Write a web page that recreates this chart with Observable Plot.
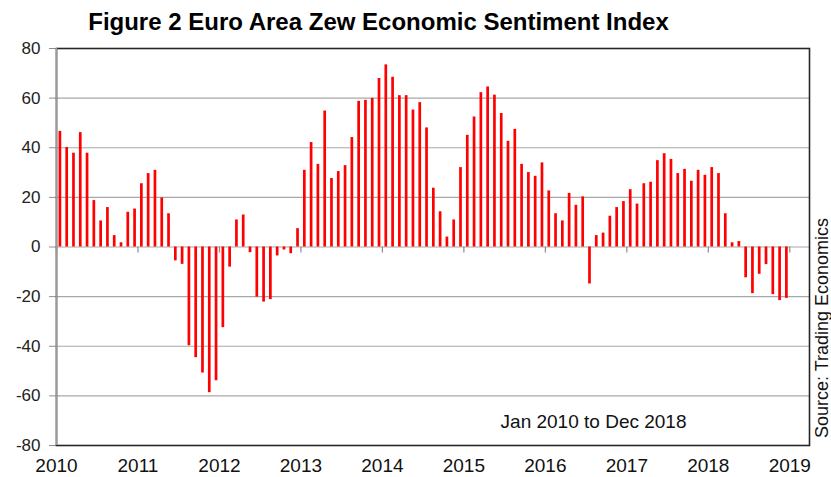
<!DOCTYPE html>
<html>
<head>
<meta charset="utf-8">
<script src="https://cdn.jsdelivr.net/npm/d3@7"></script>
<script src="https://cdn.jsdelivr.net/npm/@observablehq/plot@0.6"></script>
<style>
  body { margin: 0; background: #fff; font-family: Arial, "Liberation Sans", sans-serif; }
  #chart { width: 831px; height: 477px; }
</style>
</head>
<body>
<div id="chart"></div>
<script>
const titleText = "Figure 2 Euro Area Zew Economic Sentiment Index";
const noteText = "Jan 2010 to Dec 2018";
const sourceText = "Source: Trading Economics";

const startYear = 2010;
const yearTicks = [2010, 2011, 2012, 2013, 2014, 2015, 2016, 2017, 2018, 2019];
const yTicks = [-80, -60, -40, -20, 0, 20, 40, 60, 80];

// Monthly ZEW Economic Sentiment values, Jan 2010 .. Dec 2018
const v2010 = [46.6, 40.1, 37.8, 46.1, 37.8, 18.7, 10.5, 15.9, 4.6, 1.7, 14.0, 15.3];
const v2011 = [25.5, 29.6, 30.9, 19.8, 13.4, -5.6, -7.0, -39.8, -44.6, -50.8, -58.7, -53.9];
const v2012 = [-32.5, -8.1, 10.9, 12.9, -2.3, -20.2, -22.2, -21.2, -3.6, -1.2, -2.7, 7.4];
const v2013 = [30.9, 42.1, 33.3, 54.8, 27.6, 30.4, 32.8, 44.1, 58.7, 59.1, 59.9, 67.9];
const v2014 = [73.4, 68.4, 61.0, 61.0, 55.2, 58.2, 48.0, 23.7, 14.2, 4.0, 10.9, 32.0];
const v2015 = [45.0, 52.4, 62.2, 64.5, 61.2, 53.8, 42.6, 47.4, 33.3, 30.0, 28.5, 33.9];
const v2016 = [22.6, 13.4, 10.5, 21.6, 16.8, 20.2, -14.9, 4.6, 5.6, 12.4, 15.9, 18.3];
const v2017 = [23.1, 17.3, 25.5, 26.1, 34.8, 37.6, 35.3, 29.6, 31.3, 26.5, 30.9, 28.9];
const v2018 = [32.0, 29.6, 13.4, 1.7, 2.2, -12.4, -18.8, -11.0, -7.1, -19.2, -21.6, -20.7];

const yearly = [v2010, v2011, v2012, v2013, v2014, v2015, v2016, v2017, v2018];
// each month drawn at the middle of its month on a fractional-year axis
const data = yearly.flatMap((vals, yi) =>
  vals.map((v, m) => ({ t: startYear + yi + (m + 0.5) / 12, v }))
);

const xDomain = [2010, 2019.242];

const chart = Plot.plot({
  width: 831,
  height: 477,
  marginLeft: 56,
  marginRight: 22,
  marginTop: 48,
  marginBottom: 32,
  style: { fontFamily: "Arial, 'Liberation Sans', sans-serif", background: "#fff", overflow: "visible" },
  x: { domain: xDomain, label: null },
  y: { domain: [-80, 80], label: null },
  marks: [
    Plot.gridY(yTicks, { stroke: "#a8a8a8", strokeOpacity: 1, strokeWidth: 1.2 }),
    Plot.ruleX(data, { x: "t", y1: 0, y2: "v", stroke: "#ff0000", strokeWidth: 2.7 }),
    Plot.ruleX(yearTicks, { x: d => d, y1: 0, y2: 0, insetBottom: -6, stroke: "#8c8c8c", strokeWidth: 1.2 }),
    Plot.axisY(yTicks, { label: null, tickSize: 7, tickPadding: 9, fontSize: 17, stroke: "#8c8c8c", fill: "#222", tickFormat: d => String(d) }),
    Plot.axisX(yearTicks, { label: null, tickSize: 0, tickPadding: 13, fontSize: 19, fill: "#111", tickFormat: d => String(d) }),
    Plot.frame({ stroke: "#262626", strokeWidth: 1.6 }),
    Plot.ruleX([xDomain[0]], { stroke: "#9a9a9a", strokeWidth: 1.6 }),
    Plot.text([noteText], { text: d => d, frameAnchor: "bottom-right", textAnchor: "end", dx: -123, dy: -18, fontSize: 19, fill: "#111" }),
    Plot.text([sourceText], { text: d => d, frameAnchor: "right", textAnchor: "middle", rotate: -90, dx: 13, dy: 81, fontSize: 18, fill: "#111" }),
    Plot.text([titleText], { text: d => d, frameAnchor: "top", textAnchor: "middle", dx: -54.5, dy: -36, fontSize: 24, fontWeight: "bold", fill: "#000" })
  ]
});
document.getElementById("chart").appendChild(chart);
</script>
</body>
</html>
